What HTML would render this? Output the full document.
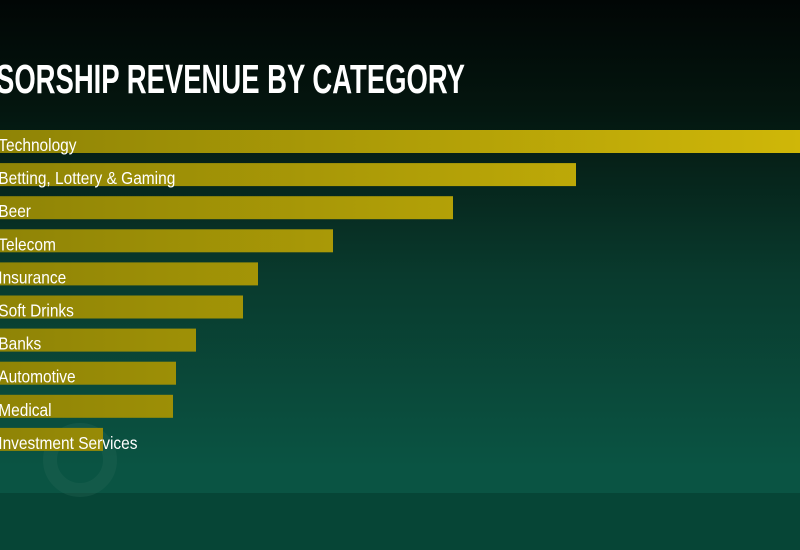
<!DOCTYPE html>
<html><head><meta charset="utf-8"><style>
html,body{margin:0;padding:0;width:800px;height:550px;overflow:hidden;background:#03100c}
svg{display:block}
text{font-family:"Liberation Sans Narrow","Liberation Sans",sans-serif}
</style></head><body>
<svg width="800" height="550">
<defs>
<linearGradient id="bg" x1="0" y1="0" x2="0" y2="1">
<stop offset="0" stop-color="#010605"/><stop offset="0.2" stop-color="#04160f"/>
<stop offset="0.5" stop-color="#093a2d"/><stop offset="0.85" stop-color="#0a5443"/><stop offset="1" stop-color="#0a5443"/>
</linearGradient>
<linearGradient id="bar" gradientUnits="userSpaceOnUse" x1="0" y1="0" x2="800" y2="0">
<stop offset="0" stop-color="#8f8406"/><stop offset="1" stop-color="#cfb708"/>
</linearGradient>
</defs>
<rect width="800" height="550" fill="url(#bg)"/>
<rect y="493" width="800" height="57" fill="#064536"/>
<circle cx="80" cy="460" r="30" fill="none" stroke="#2a6a5a" stroke-width="14" opacity="0.3"/>
<text x="-4" y="93" fill="#fff" font-size="41" font-weight="bold" textLength="469" lengthAdjust="spacingAndGlyphs">SORSHIP REVENUE BY CATEGORY</text>
<g id="bars"></g>
</svg>
<script>
const categories=["Technology","Betting, Lottery & Gaming","Beer","Telecom","Insurance","Soft Drinks","Banks","Automotive","Medical","Investment Services"];
const values=[820,576,453,333,258,243,196,176,173,103];
const xScale=v=>v*1.0;
const yTop=130,step=33.1,barH=23;
const g=document.getElementById('bars');
const ns='http://www.w3.org/2000/svg';
categories.forEach((c,i)=>{
  const y=yTop+i*step;
  const r=document.createElementNS(ns,'rect');
  r.setAttribute('x',0);r.setAttribute('y',y);r.setAttribute('width',xScale(values[i]));r.setAttribute('height',barH);
  r.setAttribute('fill','url(#bar)');
  
  
  g.appendChild(r);
  const t=document.createElementNS(ns,'text');
  t.setAttribute('x',-2);t.setAttribute('y',y+21);t.setAttribute('fill','#fff');t.setAttribute('font-size','18');
  t.setAttribute('transform','scale(0.86,1)');
  t.textContent=c;
  
  
  g.appendChild(t);
});
</script>
</body></html>
